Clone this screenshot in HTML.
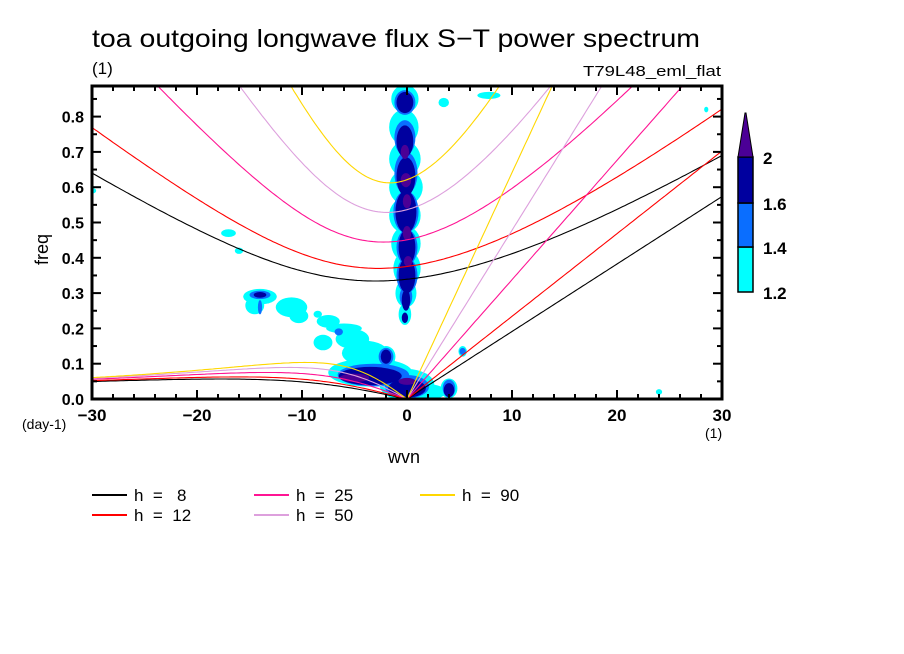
<!DOCTYPE html>
<html><head><meta charset="utf-8"><style>
html,body{margin:0;padding:0;background:#fff;}
svg{display:block;font-family:"Liberation Sans",sans-serif;}
</style></head><body>
<svg id="chart" width="904" height="654" viewBox="0 0 904 654" xmlns="http://www.w3.org/2000/svg">
<rect width="904" height="654" fill="#fff"/>
<text x="92" y="47" font-size="25" textLength="608" lengthAdjust="spacingAndGlyphs">toa outgoing longwave flux S−T power spectrum</text>
<text x="92" y="74" font-size="17">(1)</text>
<text x="583" y="76" font-size="15" textLength="138" lengthAdjust="spacingAndGlyphs">T79L48_eml_flat</text>
<clipPath id="pc"><rect x="92" y="86" width="630" height="313"/></clipPath>
<g id="shade" clip-path="url(#pc)"></g>
<g id="curves" clip-path="url(#pc)"></g>
<g id="axes"></g>
<text x="48" y="265" font-size="18" transform="rotate(-90 48 265)">freq</text>
<text x="22" y="429" font-size="14">(day-1)</text>
<text x="705" y="438" font-size="14">(1)</text>
<text x="404" y="463" font-size="18" text-anchor="middle">wvn</text>
<g id="colorbar"></g>
<g id="legend"></g>
</svg>
<script>
const depths=[8,12,25,50,90];
const depthColors=["#000000","#ff0000","#ff1493","#dda0dd","#ffd700"];
const xTicks=[-30,-20,-10,0,10,20,30];
const yTicks=[0,0.1,0.2,0.3,0.4,0.5,0.6,0.7,0.8];
const levelLabels=["1.2","1.4","1.6","2"];
const levelColors=["#00ffff","#0a6eff","#00009f","#4b0096"];
// blobs: wvn, freq, radius-wvn, radius-freq
const cyanBlobs=[[-0.2,0.85,1.3,0.04],[-0.3,0.77,1.4,0.05],[-0.2,0.68,1.5,0.05],[-0.1,0.6,1.6,0.05],[-0.2,0.52,1.5,0.05],[-0.1,0.44,1.4,0.05],[0,0.37,1.3,0.05],[-0.1,0.3,1.0,0.04],[-0.2,0.24,0.6,0.03],
[-14,0.29,1.6,0.022],[-14.5,0.265,0.9,0.025],[-11,0.26,1.5,0.028],[-10.3,0.235,0.9,0.02],[-7.5,0.22,1.1,0.018],[-6,0.2,1.7,0.014],[-8,0.16,0.9,0.022],[-5.2,0.17,1.6,0.028],[-4,0.13,2.2,0.035],[-3.5,0.075,4,0.04],[0,0.04,2.6,0.045],[-2,0.12,0.9,0.03],[2,0.02,1.7,0.022],[4,0.03,0.8,0.028],[5.3,0.135,0.4,0.015],
[7.8,0.86,1.1,0.01],[3.5,0.84,0.5,0.013],[-17,0.47,0.7,0.011],[-16,0.42,0.4,0.009],[-30,0.59,0.4,0.008],[-8.5,0.24,0.4,0.01],[24,0.02,0.3,0.008],[28.5,0.82,0.2,0.008]];
const blueBlobs=[[-0.2,0.84,1.0,0.035],[-0.2,0.74,1.0,0.05],[-0.1,0.64,1.1,0.06],[-0.1,0.53,1.2,0.06],[0,0.43,1.0,0.05],[0,0.35,1.0,0.05],[-0.1,0.29,0.6,0.03],[-14,0.295,1.0,0.012],[-6.5,0.19,0.4,0.01],[-3.2,0.068,3.4,0.032],[0,0.035,2.1,0.033],[-2,0.12,0.7,0.025],[4,0.03,0.6,0.025],[5.3,0.135,0.3,0.01],[-14,0.26,0.2,0.02]];
const darkBlobs=[[-0.2,0.84,0.8,0.03],[-0.2,0.73,0.8,0.045],[-0.1,0.63,0.9,0.055],[-0.1,0.53,1.0,0.06],[0,0.43,0.8,0.05],[0,0.35,0.8,0.05],[-0.1,0.28,0.4,0.03],[-0.2,0.23,0.3,0.015],[-14,0.295,0.6,0.008],[-3.5,0.065,3,0.026],[0,0.03,1.8,0.026],[-2,0.12,0.5,0.02],[4,0.025,0.5,0.02]];
const purpleBlobs=[[-0.2,0.7,0.4,0.02],[-0.1,0.62,0.5,0.02],[0,0.56,0.4,0.02],[0,0.47,0.4,0.02],[0.1,0.39,0.4,0.015],[-5,0.06,1.4,0.012],[0,0.05,0.8,0.01]];

const X0=92,X1=722,Y0=399,YT=86;
function xs(w){return X0+(w+30)/60*(X1-X0);}
function ys(f){return Y0-f*353;}
const NS="http://www.w3.org/2000/svg";
function mk(tag,parent,attrs){const e=document.createElementNS(NS,tag);for(const k in attrs)e.setAttribute(k,attrs[k]);parent.appendChild(e);return e;}

const shade=document.getElementById('shade');
[cyanBlobs,blueBlobs,darkBlobs,purpleBlobs].forEach((set,li)=>{
  set.forEach(b=>{
    const e=mk('ellipse',shade,{cx:xs(b[0]),cy:ys(b[1]),rx:b[2]*10.5,ry:b[3]*353,fill:levelColors[li]});
    
    
  });
});

const g=9.81,beta=2.29e-11,Re=6.371e6,conv=86400/(2*Math.PI);
const curves=document.getElementById('curves');
function igFreq(k,c){
  const A=c*c*k*k+3*beta*c;
  let w=Math.sqrt(A)*1.2;
  for(let i=0;i<40;i++){const f=w*w*w-A*w-beta*c*c*k;const d=3*w*w-A;w-=f/d;}
  return w;
}
depths.forEach((h,i)=>{
  const c=Math.sqrt(g*h);
  let kel="",ig="",er="";
  for(let s=-30;s<=30.001;s+=0.25){
    const k=s/Re;
    const wi=igFreq(k,c)*conv;
    ig+=(ig?"L":"M")+xs(s).toFixed(1)+","+ys(wi).toFixed(1);
    if(s<=0){const we=-beta*k/(k*k+3*beta/c)*conv;er+=(er?"L":"M")+xs(s).toFixed(1)+","+ys(we).toFixed(1);}
    if(s>=0){const wk=c*k*conv;kel+=(kel?"L":"M")+xs(s).toFixed(1)+","+ys(wk).toFixed(1);}
  }
  [[ig,'ig-curve'],[er,'rossby-curve'],[kel,'kelvin-curve']].forEach(p=>{
    const e=mk('path',curves,{d:p[0],fill:'none',stroke:depthColors[i],'stroke-width':1.1});
    
    
  });
});

const ax=document.getElementById('axes');
const fr=mk('rect',ax,{x:X0,y:YT,width:X1-X0,height:Y0-YT,fill:'none',stroke:'#000','stroke-width':3});


for(let w=-30;w<=30;w+=2){
  const maj=w%10===0,L=maj?9:5;
  mk('line',ax,{x1:xs(w),x2:xs(w),y1:Y0,y2:Y0-L,stroke:'#000','stroke-width':2});
  mk('line',ax,{x1:xs(w),x2:xs(w),y1:YT,y2:YT+L,stroke:'#000','stroke-width':2});
}
for(let j=0;j<=17;j++){
  const f=j*0.05,maj=j%2===0,L=maj?9:5;
  mk('line',ax,{x1:X0,x2:X0+L,y1:ys(f),y2:ys(f),stroke:'#000','stroke-width':2});
  mk('line',ax,{x1:X1,x2:X1-L,y1:ys(f),y2:ys(f),stroke:'#000','stroke-width':2});
}
xTicks.forEach(t=>{
  const e=mk('text',ax,{x:xs(t),y:Y0+22,'font-size':17,'font-weight':'bold','text-anchor':'middle'});
  e.textContent=(t<0?'−':'')+Math.abs(t);
  
  
});
yTicks.forEach(t=>{
  const e=mk('text',ax,{x:X0-8,y:ys(t)+6,'font-size':16,'font-weight':'bold','text-anchor':'end'});
  e.textContent=t.toFixed(1);
  
  
});

const cb=document.getElementById('colorbar');
const cbx=738,cbw=15,bounds=[292,247,203,157];
for(let i=0;i<3;i++){
  const e=mk('rect',cb,{x:cbx,y:bounds[i+1],width:cbw,height:bounds[i]-bounds[i+1],fill:levelColors[i],stroke:'#000','stroke-width':1.5});
  
  
}
const tri=mk('polygon',cb,{points:`${cbx},157 ${cbx+cbw},157 ${cbx+8},113 ${cbx+7},113`,fill:levelColors[3],stroke:'#000','stroke-width':1});


levelLabels.forEach((l,i)=>{
  const e=mk('text',cb,{x:763,y:bounds[i]+7,'font-size':17,'font-weight':'bold'});
  e.textContent=l;
  
  
});

const lg=document.getElementById('legend');
const lx=[92,254,420],ly=[495,515];
depths.forEach((h,i)=>{
  const col=Math.floor(i/2),row=i%2;
  mk('line',lg,{x1:lx[col],x2:lx[col]+35,y1:ly[row],y2:ly[row],stroke:depthColors[i],'stroke-width':2});
  const e=mk('text',lg,{x:lx[col]+42,y:ly[row]+6,'font-size':17});
  e.setAttribute('xml:space','preserve');
  e.style.whiteSpace='pre';
  e.textContent='h  =  '+(h<10?' ':'')+h;
  
  
});
</script>
</body></html>
